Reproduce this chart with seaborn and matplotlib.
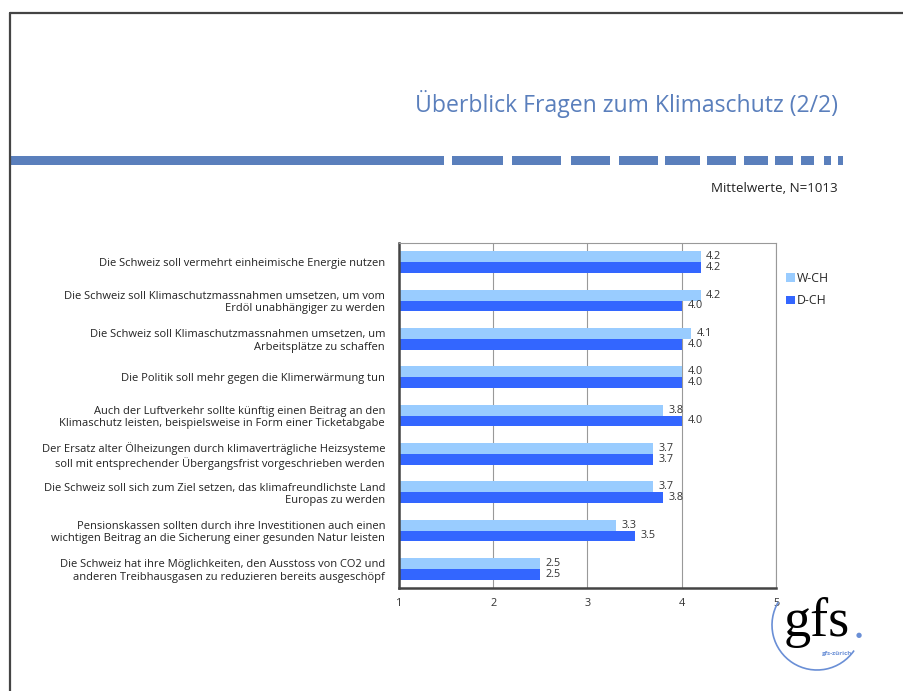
import pandas as pd
import seaborn as sns
from matplotlib import pyplot as plt
from matplotlib.patches import Rectangle, Arc
from matplotlib.lines import Line2D

questions = [
    "Die Schweiz soll vermehrt einheimische Energie nutzen",
    "Die Schweiz soll Klimaschutzmassnahmen umsetzen, um vom\nErdöl unabhängiger zu werden",
    "Die Schweiz soll Klimaschutzmassnahmen umsetzen, um\nArbeitsplätze zu schaffen",
    "Die Politik soll mehr gegen die Klimerwärmung tun",
    "Auch der Luftverkehr sollte künftig einen Beitrag an den\nKlimaschutz leisten, beispielsweise in Form einer Ticketabgabe",
    "Der Ersatz alter Ölheizungen durch klimaverträgliche Heizsysteme\nsoll mit entsprechender Übergangsfrist vorgeschrieben werden",
    "Die Schweiz soll sich zum Ziel setzen, das klimafreundlichste Land\nEuropas zu werden",
    "Pensionskassen sollten durch ihre Investitionen auch einen\nwichtigen Beitrag an die Sicherung einer gesunden Natur leisten",
    "Die Schweiz hat ihre Möglichkeiten, den Ausstoss von CO2 und\nanderen Treibhausgasen zu reduzieren bereits ausgeschöpf",
]
w_ch = [4.2, 4.2, 4.1, 4.0, 3.8, 3.7, 3.7, 3.3, 2.5]
d_ch = [4.2, 4.0, 4.0, 4.0, 4.0, 3.7, 3.8, 3.5, 2.5]
regions = ["W-CH", "D-CH"]
x_ticks = [1, 2, 3, 4, 5]

df = pd.DataFrame({"frage": questions * 2,
                   "region": ["W-CH"] * len(w_ch) + ["D-CH"] * len(d_ch),
                   "wert": w_ch + d_ch})

sns.set_style("white")
plt.rcParams["font.family"] = ["Open Sans", "DejaVu Sans"]

W, H = 904, 691
fig = plt.figure(figsize=(W / 100, H / 100), dpi=100)


def fx(px):
    return px / W


def fy(py):
    return 1 - py / H


# slide frame
fig.add_artist(Line2D([fx(10), 1], [fy(13), fy(13)], color="#444444", lw=1.6))
fig.add_artist(Line2D([fx(10), fx(10)], [fy(13), 0], color="#444444", lw=1.6))

# dashed banner
segments = [(10, 444), (452, 503), (512, 561), (571, 610), (619, 658), (665, 700),
            (707, 736), (744, 768), (775, 793), (801, 814), (824, 831), (838, 843)]
for a, b in segments:
    fig.add_artist(Rectangle((fx(a), fy(165)), fx(b - a), 9 / H,
                             facecolor="#5A7FBC", edgecolor="none"))

fig.text(fx(838), fy(104), "Überblick Fragen zum Klimaschutz (2/2)", ha="right",
         va="center", fontsize=16.6, color="#5A7FBC")
fig.text(fx(838), fy(188), "Mittelwerte, N=1013", ha="right", va="center",
         fontsize=9.6, color="#222222")

ax = fig.add_axes([fx(399), fy(588), fx(776 - 399), (588 - 243) / H])
sns.barplot(data=df, x="wert", y="frage", hue="region", orient="h",
            palette=["#99CCFF", "#3366FF"], width=0.56, saturation=1,
            errorbar=None, ax=ax, legend=True, linewidth=0)

for cont in ax.containers:
    ax.bar_label(cont, fmt="%.1f", padding=4, fontsize=7.8, color="#333333")

ax.set_xlim(1, 5)
ax.set_ylim(len(questions) - 0.5, -0.5)
ax.set_xticks(x_ticks)
ax.set_xticklabels([str(t) for t in x_ticks], fontsize=7.8, color="#333333")
ax.set_xlabel("")
ax.set_ylabel("")
ax.tick_params(axis="y", length=0, labelsize=8, labelcolor="#222222", pad=10)
ax.set_yticks(range(len(questions)), questions, ha="right")
ax.set_yticks([i - 0.5 for i in range(len(questions) + 1)], minor=True)
ax.tick_params(axis="y", which="minor", length=4, width=1, color="#444444", direction="out")
ax.tick_params(axis="x", length=4, width=1, color="#444444", direction="out", pad=3)
ax.grid(axis="x", color="#999999", lw=0.8)
ax.set_axisbelow(True)
for s in ["left", "bottom"]:
    ax.spines[s].set_color("#444444")
    ax.spines[s].set_linewidth(1.8)
for s in ["top", "right"]:
    ax.spines[s].set_color("#999999")
    ax.spines[s].set_linewidth(0.8)
for lbl in ax.get_yticklabels():
    lbl.set_linespacing(1.15)

handles, labels = ax.get_legend_handles_labels()
ax.legend(handles, labels, loc="upper left", bbox_to_anchor=(fx(786), fy(272)),
          bbox_transform=fig.transFigure, frameon=False, fontsize=8.8,
          handlelength=0.7, handleheight=0.7, handletextpad=0.2, labelspacing=0.75,
          borderaxespad=0, borderpad=0)

# gfs logo
fig.add_artist(Arc((fx(817), fy(625)), 90 / W, 90 / H, theta1=142, theta2=318,
                   color="#6A8FD6", lw=1.2, transform=fig.transFigure))
fig.text(fx(784), fy(636), "gfs", fontsize=39, family="Liberation Serif",
         color="black", va="baseline", ha="left")
fig.text(fx(859), fy(635), "●", fontsize=5, color="#6A8FD6", ha="center", va="center")
fig.text(fx(837), fy(653), "gfs-zürich", fontsize=4.5, color="#6A8FD6",
         fontweight="bold", ha="center", va="center")

fig.savefig("out.png", dpi=100)
